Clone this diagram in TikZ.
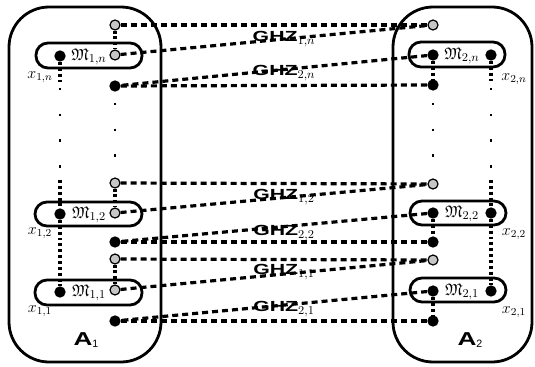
\documentclass[tikz,border=0pt]{standalone}
\usepackage{amssymb}
\usepackage{graphicx}
\usepackage{fontspec}
\setsansfont{Liberation Sans}
\usetikzlibrary{backgrounds}
\newcommand{\ghzlab}[1]{\scalebox{1.45}[1]{\fontsize{11}{12}\selectfont\sffamily\bfseries GHZ}$_{#1}$}
\begin{document}
\begin{tikzpicture}[x=0.75pt,y=-0.75pt,
  cont/.style={draw, line width=2.1pt, rounded corners=30pt},
  mbox/.style={draw, line width=2.1pt, rounded corners=9pt},
  gq/.style={circle, draw, fill=gray!45, line width=0.9pt, minimum size=7.5pt, inner sep=0pt},
  bq/.style={circle, fill=black, minimum size=8.5pt, inner sep=0pt},
  ghz/.style={line width=2.4pt, dash pattern=on 4.5pt off 3pt},
  vdot/.style={line width=2.3pt, dash pattern=on 2.2pt off 2.2pt},
  sparse/.style={line width=1.8pt, dash pattern=on 1.8pt off 17.5pt},
  lab/.style={inner sep=0pt, font=\fontsize{12.5}{14}\selectfont},
  xlab/.style={inner sep=0pt, font=\fontsize{11.5}{13}\selectfont}
]
\useasboundingbox (0,0) rectangle (535,367);
% containers
\draw[cont] (9,7) rectangle (161,362);
\draw[cont] (393,7) rectangle (532,362);
% measurement boxes
\draw[mbox] (36,43) rectangle (142,68);
\draw[mbox] (35,202) rectangle (142,226);
\draw[mbox] (35,280) rectangle (142,305);
\draw[mbox] (409,42) rectangle (505,67);
\draw[mbox] (410,201) rectangle (506,225);
\draw[mbox] (410,278) rectangle (506,302);
% left qubits
\node[gq] (gTn) at (115,25) {};
\node[gq] (gBn) at (115,55) {};
\node[bq] (kn) at (60,56) {};
\node[bq] (bLn) at (115,86) {};
\node[gq] (gT2) at (115,183) {};
\node[gq] (gB2) at (115,213) {};
\node[bq] (k2) at (60,214) {};
\node[bq] (bL2) at (115,242) {};
\node[gq] (gT1) at (115,259) {};
\node[gq] (gB1) at (115,290) {};
\node[bq] (k1) at (60,292) {};
\node[bq] (bL1) at (115,321) {};
% right qubits
\node[gq] (rTn) at (433,25) {};
\node[bq] (rBn) at (433,55) {};
\node[bq] (rkn) at (491,55) {};
\node[bq] (rLn) at (433,85) {};
\node[gq] (rT2) at (433,184) {};
\node[bq] (rB2) at (433,213) {};
\node[bq] (rk2) at (491,213) {};
\node[bq] (rL2) at (433,242) {};
\node[gq] (rT1) at (433,260) {};
\node[bq] (rB1) at (433,291) {};
\node[bq] (rk1) at (491,291) {};
\node[bq] (rL1) at (433,321) {};
% helper coordinates for vertical dotted columns
\coordinate (kna) at (60,82);
\coordinate (knb) at (60,88);
\coordinate (knc) at (60,170);
\coordinate (knd) at (60,180);
\coordinate (bLa) at (115,103);
\coordinate (bLb) at (115,160);
\coordinate (rkna) at (491,82);
\coordinate (rknb) at (491,88);
\coordinate (rknc) at (491,170);
\coordinate (rknd) at (491,180);
\coordinate (rLa) at (433,103);
\coordinate (rLb) at (433,160);
% labels
\node[lab] (Mn1) at (89,57) {$\mathfrak{M}_{1,n}$};
\node[lab] (M12) at (89,215) {$\mathfrak{M}_{1,2}$};
\node[lab] (M11) at (89,293) {$\mathfrak{M}_{1,1}$};
\node[lab] (Mn2) at (462,56) {$\mathfrak{M}_{2,n}$};
\node[lab] (M22) at (462,214) {$\mathfrak{M}_{2,2}$};
\node[lab] (M21) at (462,292) {$\mathfrak{M}_{2,1}$};
\node[xlab] (x1n) at (40,77) {$x_{1,n}$};
\node[xlab] (x12) at (40,233) {$x_{1,2}$};
\node[xlab] (x11) at (40,311) {$x_{1,1}$};
\node[xlab] (x2n) at (514,79) {$x_{2,n}$};
\node[xlab] (x22) at (514,234) {$x_{2,2}$};
\node[xlab] (x21) at (514,312) {$x_{2,1}$};
\node[lab] (A1) at (86,340) {\scalebox{1.4}[1]{\fontsize{14}{15}\selectfont\sffamily\bfseries A}{\fontsize{8}{9}\selectfont\sffamily\raisebox{-2pt}{1}}};
\node[lab] (A2) at (470,340) {\scalebox{1.4}[1]{\fontsize{14}{15}\selectfont\sffamily\bfseries A}{\fontsize{8}{9}\selectfont\sffamily\raisebox{-2pt}{2}}};
\node[lab] (G1n) at (284,39) {\ghzlab{1,n}};
\node[lab] (G2n) at (284,73) {\ghzlab{2,n}};
\node[lab] (G12) at (284,197) {\ghzlab{1,2}};
\node[lab] (G22) at (284,233) {\ghzlab{2,2}};
\node[lab] (G11) at (284,272) {\ghzlab{1,1}};
\node[lab] (G21) at (284,309) {\ghzlab{2,1}};
\begin{pgfonlayer}{background}
% GHZ connectors
\draw[ghz] (gTn) -- (rTn);
\draw[ghz] (gBn) -- (rTn);
\draw[ghz] (bLn) -- (rLn);
\draw[ghz] (rBn) -- (bLn);
\draw[ghz] (gT2) -- (rT2);
\draw[ghz] (gB2) -- (rT2);
\draw[ghz] (bL2) -- (rL2);
\draw[ghz] (rB2) -- (bL2);
\draw[ghz] (gT1) -- (rT1);
\draw[ghz] (gB1) -- (rT1);
\draw[ghz] (bL1) -- (rL1);
\draw[ghz] (rB1) -- (bL1);
% vertical dotted lines, left
\draw[vdot] (gTn) -- (gBn);
\draw[vdot] (gT2) -- (gB2);
\draw[vdot] (gT1) -- (gB1);
\draw[vdot] (kn) -- (kna);
\draw[sparse] (knb) -- (knc);
\draw[vdot] (knd) -- (k2);
\draw[vdot] (k2) -- (k1);
\draw[sparse] (bLa) -- (bLb);
% right
\draw[vdot] (rBn) -- (rLn);
\draw[vdot] (rB2) -- (rL2);
\draw[vdot] (rB1) -- (rL1);
\draw[vdot] (rkn) -- (rkna);
\draw[sparse] (rknb) -- (rknc);
\draw[vdot] (rknd) -- (rk2);
\draw[vdot] (rk2) -- (rk1);
\draw[sparse] (rLa) -- (rLb);
\end{pgfonlayer}
\end{tikzpicture}
\end{document}
